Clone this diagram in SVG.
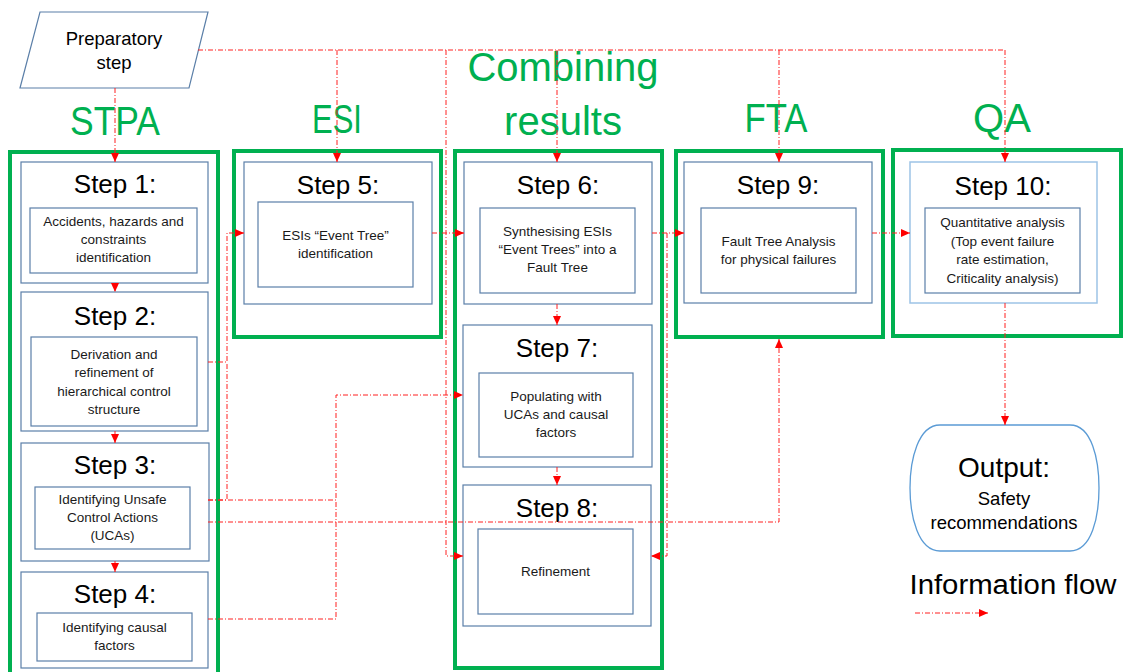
<svg xmlns="http://www.w3.org/2000/svg" width="1126" height="672" viewBox="0 0 1126 672">
  <defs>
    <marker id="arrow" markerUnits="userSpaceOnUse" markerWidth="9" markerHeight="8" refX="9" refY="4" orient="auto">
      <path d="M0,0 L9,4 L0,8 Z" fill="#FF0000"/>
    </marker>
    <style>
      .phase { fill: none; stroke: #00B050; stroke-width: 4; }
      .box { fill: #FFFFFF; stroke: #5B7FA8; stroke-width: 1.2; }
      .box-light { fill: #FFFFFF; stroke: #9DC3E6; stroke-width: 1.5; }
      .title { font-family: "Liberation Sans", Arial, sans-serif; font-size: 40px; fill: #00B050; text-anchor: middle; }
      .step { font-family: "Liberation Sans", Arial, sans-serif; font-size: 26px; fill: #000000; text-anchor: middle; }
      .body { font-family: "Liberation Sans", Arial, sans-serif; font-size: 13.5px; fill: #1A1A1A; text-anchor: middle; }
      .flow { fill: none; stroke: #FF2020; stroke-width: 1; stroke-dasharray: 5 2 1 2; }
    </style>
  </defs>

  <rect x="0" y="0" width="1126" height="672" fill="#FFFFFF"/>

  <!-- Preparatory step -->
  <g id="preparatory">
    <polygon points="40,12 208,12 189,88 20,88" fill="#FFFFFF" stroke="#5B7FA8" stroke-width="1.2"/>
    <text x="114" y="45" font-family="Liberation Sans, Arial, sans-serif" font-size="18.5" text-anchor="middle">Preparatory</text>
    <text x="114" y="69" font-family="Liberation Sans, Arial, sans-serif" font-size="18.5" text-anchor="middle">step</text>
  </g>

  <!-- Phase headings -->
  <g id="phase-titles">
    <text class="title" x="115" y="135" textLength="90" lengthAdjust="spacingAndGlyphs">STPA</text>
    <text class="title" x="337" y="133" textLength="50" lengthAdjust="spacingAndGlyphs">ESI</text>
    <text class="title" x="563" y="81">Combining</text>
    <text class="title" x="563" y="135">results</text>
    <text class="title" x="776" y="132" textLength="63" lengthAdjust="spacingAndGlyphs">FTA</text>
    <text class="title" x="1002" y="132">QA</text>
  </g>

  <!-- STPA phase -->
  <g id="stpa">
    <rect class="phase" x="10" y="152" width="208" height="540"/>
    <g id="step1">
      <rect class="box" x="21" y="162" width="187" height="121"/>
      <text class="step" x="115" y="193">Step 1:</text>
      <rect class="box" x="30" y="208" width="167" height="65"/>
      <text class="body" x="113.5" y="226">Accidents, hazards and</text>
      <text class="body" x="113.5" y="244">constraints</text>
      <text class="body" x="113.5" y="262">identification</text>
    </g>
    <g id="step2">
      <rect class="box" x="21" y="292" width="187" height="139"/>
      <text class="step" x="115" y="325">Step 2:</text>
      <rect class="box" x="31" y="337" width="166" height="89"/>
      <text class="body" x="114" y="359">Derivation and</text>
      <text class="body" x="114" y="377">refinement of</text>
      <text class="body" x="114" y="396">hierarchical control</text>
      <text class="body" x="114" y="414">structure</text>
    </g>
    <g id="step3">
      <rect class="box" x="21" y="443" width="188" height="118"/>
      <text class="step" x="115" y="474">Step 3:</text>
      <rect class="box" x="35" y="487" width="155" height="62"/>
      <text class="body" x="112.5" y="504">Identifying Unsafe</text>
      <text class="body" x="112.5" y="522">Control Actions</text>
      <text class="body" x="112.5" y="540">(UCAs)</text>
    </g>
    <g id="step4">
      <rect class="box" x="21" y="572" width="187" height="96"/>
      <text class="step" x="115" y="603">Step 4:</text>
      <rect class="box" x="37" y="613" width="155" height="48"/>
      <text class="body" x="114.5" y="632">Identifying causal</text>
      <text class="body" x="114.5" y="650">factors</text>
    </g>
  </g>

  <!-- ESI phase -->
  <g id="esi">
    <rect class="phase" x="234" y="151" width="207" height="186"/>
    <g id="step5">
      <rect class="box" x="244" y="162" width="188" height="142"/>
      <text class="step" x="338" y="194">Step 5:</text>
      <rect class="box" x="258" y="202" width="155" height="85"/>
      <text class="body" x="335.5" y="240">ESIs “Event Tree”</text>
      <text class="body" x="335.5" y="258">identification</text>
    </g>
  </g>

  <!-- Combining results phase -->
  <g id="combining">
    <rect class="phase" x="455" y="151" width="207" height="517"/>
    <g id="step6">
      <rect class="box" x="464" y="162" width="188" height="142"/>
      <text class="step" x="558" y="194">Step 6:</text>
      <rect class="box" x="480" y="208" width="155" height="85"/>
      <text class="body" x="557.5" y="236">Synthesising ESIs</text>
      <text class="body" x="557.5" y="254">“Event Trees” into a</text>
      <text class="body" x="557.5" y="272">Fault Tree</text>
    </g>
    <g id="step7">
      <rect class="box" x="463" y="325" width="189" height="142"/>
      <text class="step" x="557" y="357">Step 7:</text>
      <rect class="box" x="479" y="373" width="154" height="84"/>
      <text class="body" x="556" y="401">Populating with</text>
      <text class="body" x="556" y="419">UCAs and causal</text>
      <text class="body" x="556" y="437">factors</text>
    </g>
    <g id="step8">
      <rect class="box" x="463" y="485" width="188" height="141"/>
      <text class="step" x="557" y="517">Step 8:</text>
      <rect class="box" x="478" y="529" width="155" height="85"/>
      <text class="body" x="555.5" y="576">Refinement</text>
    </g>
  </g>

  <!-- FTA phase -->
  <g id="fta">
    <rect class="phase" x="676" y="151" width="207" height="186"/>
    <g id="step9">
      <rect class="box" x="684" y="162" width="188" height="141"/>
      <text class="step" x="778" y="194">Step 9:</text>
      <rect class="box" x="701" y="208" width="155" height="85"/>
      <text class="body" x="778.5" y="246">Fault Tree Analysis</text>
      <text class="body" x="778.5" y="264">for physical failures</text>
    </g>
  </g>

  <!-- QA phase -->
  <g id="qa">
    <rect class="phase" x="893" y="150" width="228" height="186"/>
    <g id="step10">
      <rect class="box-light" x="910" y="162" width="187" height="141"/>
      <text class="step" x="1003" y="195">Step 10:</text>
      <rect class="box" x="925" y="208" width="155" height="85"/>
      <text class="body" x="1002.5" y="227">Quantitative analysis</text>
      <text class="body" x="1002.5" y="246">(Top event failure</text>
      <text class="body" x="1002.5" y="264">rate estimation,</text>
      <text class="body" x="1002.5" y="283">Criticality analysis)</text>
    </g>
  </g>

  <!-- Output -->
  <g id="output">
    <path d="M940,425 H1070 C1092,425 1099,460 1099,488 C1099,516 1092,551 1070,551 H940 C918,551 910,516 910,488 C910,460 918,425 940,425 Z" fill="#FFFFFF" stroke="#5B9BD5" stroke-width="1.3"/>
    <text x="1004" y="477" font-family="Liberation Sans, Arial, sans-serif" font-size="28" text-anchor="middle">Output:</text>
    <text x="1004" y="505" font-family="Liberation Sans, Arial, sans-serif" font-size="18.5" text-anchor="middle">Safety</text>
    <text x="1004" y="529" font-family="Liberation Sans, Arial, sans-serif" font-size="18.5" text-anchor="middle">recommendations</text>
  </g>

  <!-- Legend -->
  <g id="legend">
    <text x="1013" y="594" font-family="Liberation Sans, Arial, sans-serif" font-size="27" text-anchor="middle" textLength="207" lengthAdjust="spacingAndGlyphs">Information flow</text>
    <path class="flow" d="M915,613 H988" marker-end="url(#arrow)"/>
  </g>

  <!-- Information flow connectors -->
  <g id="connectors">
    <!-- preparatory step distribution line -->
    <path class="flow" d="M198,50 H1005"/>
    <path class="flow" d="M115,88 V162" marker-end="url(#arrow)"/>
    <path class="flow" d="M337,50 V162" marker-end="url(#arrow)"/>
    <path class="flow" d="M557,50 V162" marker-end="url(#arrow)"/>
    <path class="flow" d="M779,50 V162" marker-end="url(#arrow)"/>
    <path class="flow" d="M1005,50 V162" marker-end="url(#arrow)"/>
    <path class="flow" d="M446,50 V556 H463" marker-end="url(#arrow)"/>

    <!-- STPA sequence -->
    <path class="flow" d="M115,283 V292" marker-end="url(#arrow)"/>
    <path class="flow" d="M115,431 V443" marker-end="url(#arrow)"/>
    <path class="flow" d="M115,561 V572" marker-end="url(#arrow)"/>

    <!-- STPA to ESI -->
    <path class="flow" d="M208,362 H227 V233 H244" marker-end="url(#arrow)"/>
    <path class="flow" d="M208,500 H227 V362"/>

    <!-- STPA to Combining results -->
    <path class="flow" d="M208,500 H336 V395 H463" marker-end="url(#arrow)"/>
    <path class="flow" d="M208,619 H336 V500"/>

    <!-- STPA to FTA -->
    <path class="flow" d="M208,522 H779 V339" marker-end="url(#arrow)"/>

    <!-- ESI to Combining, Combining sequence -->
    <path class="flow" d="M432,233 H464" marker-end="url(#arrow)"/>
    <path class="flow" d="M557,304 V325" marker-end="url(#arrow)"/>
    <path class="flow" d="M557,467 V485" marker-end="url(#arrow)"/>

    <!-- Combining to FTA and back to refinement -->
    <path class="flow" d="M652,233 H684" marker-end="url(#arrow)"/>
    <path class="flow" d="M667,233 V556 H651" marker-end="url(#arrow)"/>

    <!-- FTA to QA, QA to output -->
    <path class="flow" d="M872,233 H910" marker-end="url(#arrow)"/>
    <path class="flow" d="M1005,303 V425" marker-end="url(#arrow)"/>
  </g>
</svg>
